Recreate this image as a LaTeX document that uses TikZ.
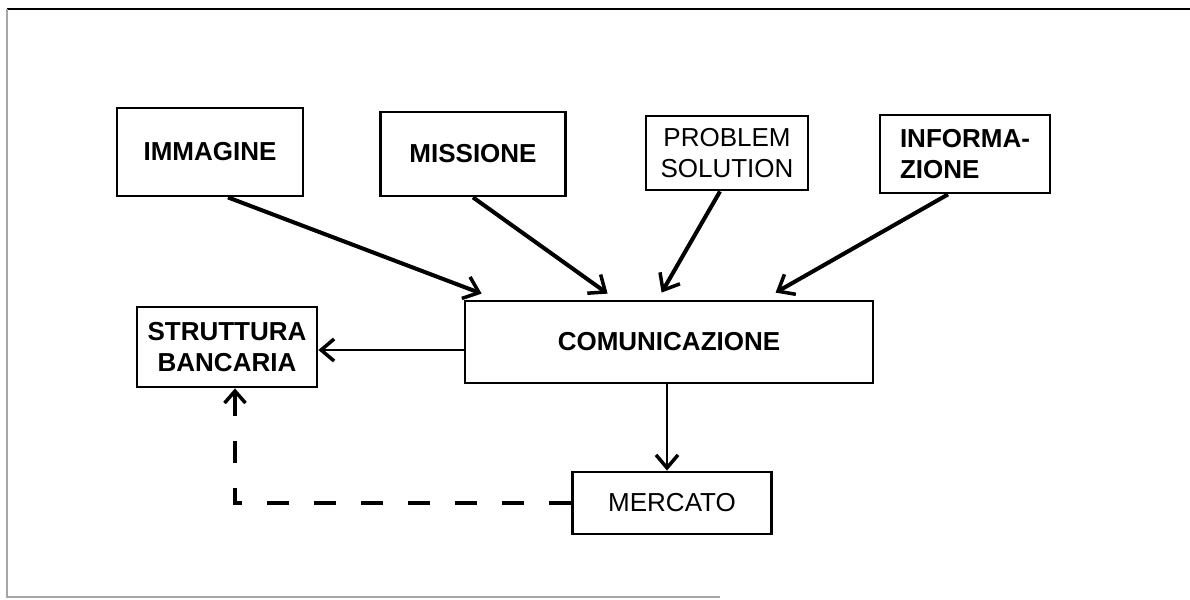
\documentclass[tikz,border=0pt]{standalone}
\usepackage{fontspec}
\setmainfont{Liberation Sans}
\usepackage{tikz}
\usetikzlibrary{arrows.meta}
\tikzset{
  box/.style={draw=black,line width=1.6pt,align=center,inner sep=0pt,font=\fontsize{14.8}{17.5}\selectfont\bfseries},
  lite/.style={font=\fontsize{14.8}{17.5}\selectfont},
  ar/.style={-{Straight Barb[length=2.8mm,width=4.6mm,line width=2pt]},line width=2.3pt},
  arb/.style={-{Straight Barb[length=2.6mm,width=4.4mm,line width=2pt]},line width=1.2pt},
  dar/.style={-{Straight Barb[length=2.4mm,width=4.2mm,line width=2pt]},line width=2pt,dash pattern=on 0.44cm off 0.5cm}
}
\begin{document}
\begin{tikzpicture}[x=0.02cm,y=-0.02cm]
\useasboundingbox (0,0) rectangle (1190,599);
\draw[black,line width=1pt] (1190,9) -- (7,9);
\draw[gray!70,line width=0.8pt] (7,9) -- (7,597) -- (720,597);
\node[box,minimum width=3.72cm,minimum height=1.76cm] (imm) at (210,152) {IMMAGINE};
\node[box,minimum width=3.7cm,minimum height=1.68cm] (mis) at (473,154) {MISSIONE};
\node[box,lite,minimum width=3.24cm,minimum height=1.48cm] (prob) at (727,153) {PROBLEM\\SOLUTION};
\node[box,align=left,minimum width=3.4cm,minimum height=1.56cm] (info) at (965,154) {INFORMA-\\ZIONE};
\node[box,minimum width=8.16cm,minimum height=1.64cm] (com) at (669,342) {COMUNICAZIONE};
\node[box,minimum width=3.6cm,minimum height=1.6cm] (str) at (227,347) {STRUTTURA\\BANCARIA};
\node[box,lite,minimum width=3.98cm,minimum height=1.24cm] (merc) at (672,503) {MERCATO};
\draw[ar] ([xshift=0.36cm]imm.south) -- ([xshift=0.36cm,yshift=0.12cm]com.north west);
\draw[ar] (mis.south) -- ([xshift=2.88cm,yshift=0.12cm]com.north west);
\draw[ar] ([xshift=-0.14cm]prob.south) -- ([xshift=3.96cm,yshift=0.14cm]com.north west);
\draw[ar] ([xshift=-0.34cm]info.south) -- ([xshift=6.24cm,yshift=0.14cm]com.north west);
\draw[arb] ([yshift=-0.16cm]com.west) -- ([yshift=-0.16cm]com.west -| str.east);
\draw[arb] ([xshift=-0.1cm]merc.north |- com.south) -- ([xshift=-0.1cm]merc.north);
\draw[dar] (merc.west) -| ([xshift=0.16cm]str.south);
\end{tikzpicture}
\end{document}
